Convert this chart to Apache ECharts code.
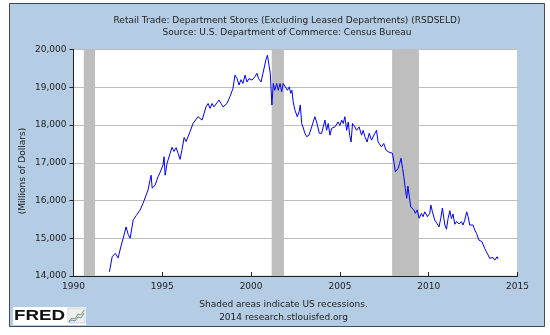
<!DOCTYPE html>
<html><head><meta charset="utf-8">
<script src="https://cdn.jsdelivr.net/npm/echarts@6/dist/echarts.min.js"></script>
<style>html,body{margin:0;padding:0;background:#fff}#c{width:550px;height:335px}</style>
</head><body><div id="c"></div>
<script>
const titleLines = ["Retail Trade: Department Stores (Excluding Leased Departments) (RSDSELD)", "Source: U.S. Department of Commerce: Census Bureau"];
const footerLines = ["Shaded areas indicate US recessions.", "2014 research.stlouisfed.org"];
const yAxisName = "(Millions of Dollars)";
const xTicks = [1990, 1995, 2000, 2005, 2010, 2015];
const yTicks = [14000, 15000, 16000, 17000, 18000, 19000, 20000];
const recessionStart = [1990.58, 2001.16, 2007.94];
const recessionEnd = [1991.21, 2001.85, 2009.45];
const dates = [1992.02,1992.18,1992.35,1992.51,1992.68,1992.80,1992.96,1993.08,1993.19,1993.36,1993.53,1993.75,1993.92,1994.03,1994.20,1994.31,1994.37,1994.43,1994.59,1994.76,1994.88,1994.99,1995.04,1995.10,1995.16,1995.27,1995.44,1995.55,1995.66,1995.78,1995.89,1996.00,1996.11,1996.23,1996.34,1996.56,1996.73,1997.01,1997.24,1997.35,1997.46,1997.58,1997.69,1997.80,1997.91,1998.08,1998.19,1998.31,1998.42,1998.64,1998.81,1998.98,1999.09,1999.21,1999.32,1999.43,1999.54,1999.66,1999.77,1999.88,2000.05,2000.22,2000.33,2000.42,2000.56,2000.67,2000.75,2000.83,2000.92,2001.00,2001.08,2001.17,2001.25,2001.33,2001.44,2001.53,2001.63,2001.72,2001.81,2001.91,2002.04,2002.15,2002.23,2002.30,2002.37,2002.47,2002.60,2002.70,2002.77,2002.85,2002.92,2003.03,2003.13,2003.26,2003.41,2003.59,2003.69,2003.84,2003.97,2004.16,2004.25,2004.34,2004.44,2004.53,2004.72,2004.90,2005.00,2005.10,2005.19,2005.28,2005.38,2005.47,2005.55,2005.63,2005.71,2005.84,2005.94,2006.08,2006.22,2006.31,2006.41,2006.53,2006.65,2006.78,2006.87,2006.97,2007.06,2007.15,2007.25,2007.34,2007.47,2007.59,2007.72,2007.81,2007.96,2008.04,2008.12,2008.20,2008.28,2008.36,2008.44,2008.53,2008.60,2008.68,2008.76,2008.83,2008.91,2008.99,2009.08,2009.16,2009.25,2009.35,2009.46,2009.59,2009.68,2009.78,2009.93,2010.06,2010.12,2010.21,2010.34,2010.47,2010.58,2010.68,2010.77,2010.91,2011.00,2011.09,2011.19,2011.28,2011.37,2011.47,2011.56,2011.71,2011.84,2011.93,2012.03,2012.14,2012.22,2012.31,2012.41,2012.50,2012.59,2012.69,2012.83,2012.91,2013.00,2013.08,2013.15,2013.25,2013.34,2013.43,2013.53,2013.62,2013.72,2013.85,2013.90];
const values = [14110,14510,14600,14480,14800,15000,15300,15100,15000,15480,15600,15750,15930,15970,16280,16540,16670,16330,16400,16630,16750,16800,16940,17160,16670,16990,17250,17410,17300,17400,17250,17090,17350,17670,17560,17820,18040,18220,18130,18170,18480,18570,18440,18570,18480,18590,18660,18570,18480,18570,18750,18970,19320,19230,19060,19200,19100,19320,19140,19230,19190,19280,19370,19230,19140,19370,19410,19720,19850,19900,19370,18530,19100,18920,19100,18920,19100,18880,19100,19100,18920,19010,18840,18920,18610,18390,18220,18350,18530,18040,17950,17780,17690,17730,17950,18220,18080,17780,17780,18130,17860,18040,17730,17910,17950,18080,17990,18130,18040,18220,17860,18080,17730,17550,18040,17950,17860,17950,17730,17860,17690,17550,17780,17600,17640,17780,17860,17550,17600,17420,17510,17340,17290,17340,17250,17030,16760,16810,16850,16980,17120,16850,16630,16320,16060,16380,16100,15830,15790,15750,15660,15750,15530,15660,15570,15700,15570,15660,15880,15700,15480,15390,15300,15530,15800,15350,15240,15520,15730,15520,15640,15370,15440,15380,15440,15350,15480,15700,15570,15350,15300,15350,15220,15130,14950,14990,14910,14870,14730,14640,14560,14470,14420,14490,14420,14510,14450];

const FONT = "DejaVu Sans";
const chart = echarts.init(document.getElementById('c'), null, {renderer: 'canvas'});
const seriesData = dates.map((d, i) => [d, values[i]]);
const recessionAreas = recessionStart.map((s, i) => [{xAxis: s}, {xAxis: recessionEnd[i]}]);

chart.setOption({
  backgroundColor: '#ffffff',
  animation: false,
  title: {
    text: titleLines.join('\n'),
    left: 282, top: 10, textAlign: 'center',
    textStyle: {fontFamily: FONT, fontSize: 9, fontWeight: 'normal', color: '#222', lineHeight: 12}
  },
  grid: {left: 73.5, top: 49.5, width: 444, height: 226.5, show: true, backgroundColor: '#ffffff', borderColor: '#c8c8c8', borderWidth: 1},
  xAxis: {
    type: 'value', min: xTicks[0], max: xTicks[xTicks.length - 1], interval: 5,
    axisLine: {show: true, onZero: false, lineStyle: {color: '#222', width: 1}},
    axisTick: {show: true, inside: true, length: 4, lineStyle: {color: '#222'}},
    axisLabel: {fontFamily: FONT, fontSize: 9, color: '#222', margin: 6, formatter: v => String(v)},
    splitLine: {show: false}
  },
  yAxis: {
    type: 'value', min: yTicks[0], max: yTicks[yTicks.length - 1], interval: 1000,
    axisLine: {show: true, lineStyle: {color: '#222', width: 1}},
    axisTick: {show: true, inside: false, length: 4, lineStyle: {color: '#222'}},
    axisLabel: {fontFamily: FONT, fontSize: 9, color: '#222', margin: 7, formatter: v => v.toLocaleString('en-US')},
    splitLine: {show: true, lineStyle: {color: '#bdbdbd', width: 1}}
  },
  series: [{
    type: 'line', data: seriesData, showSymbol: false, symbol: 'none',
    lineStyle: {color: '#0000ff', width: 1}, z: 3,
    markArea: {silent: true, itemStyle: {color: '#bebebe', opacity: 1}, data: recessionAreas}
  }],
  graphic: [
    {type: 'rect', z: -10, silent: true, shape: {x: 9.5, y: 3.5, width: 535, height: 323}, style: {fill: '#b4cce4', stroke: '#3f4a56', lineWidth: 1}},
    {type: 'text', z: 10, x: 22.5, y: 171, rotation: Math.PI / 2, style: {text: yAxisName, font: '9px "DejaVu Sans"', fill: '#222', align: 'center', verticalAlign: 'middle'}},
    {type: 'text', z: 10, x: 283.5, y: 305, style: {text: footerLines[0], font: '9px "DejaVu Sans"', fill: '#222', align: 'center', verticalAlign: 'middle'}},
    {type: 'text', z: 10, x: 283.5, y: 317.5, style: {text: footerLines[1], font: '9px "DejaVu Sans"', fill: '#222', align: 'center', verticalAlign: 'middle'}},
    {type: 'rect', z: 5, shape: {x: 13, y: 307, width: 73, height: 18}, style: {fill: '#ffffff'}},
    {type: 'text', z: 10, x: 14, y: 315.5, scaleX: 1.25, style: {text: 'FRED', font: 'bold 15px "Liberation Sans"', fill: '#111', align: 'left', verticalAlign: 'middle'}},
    {type: 'rect', z: 10, shape: {x: 68, y: 308, width: 17, height: 15}, style: {fill: '#eef0f0', stroke: '#d0d4d8', lineWidth: 1}},
    {type: 'polyline', z: 11, shape: {points: [[69,321],[72,318],[75,319],[78,314],[81,315],[84,310]]}, style: {stroke: '#7aa04a', lineWidth: 1, fill: null}},
    {type: 'polyline', z: 11, shape: {points: [[69,322],[72,320],[75,321],[78,317],[81,318],[84,313]]}, style: {stroke: '#6688bb', lineWidth: 1, fill: null}}
  ]
});
</script></body></html>
